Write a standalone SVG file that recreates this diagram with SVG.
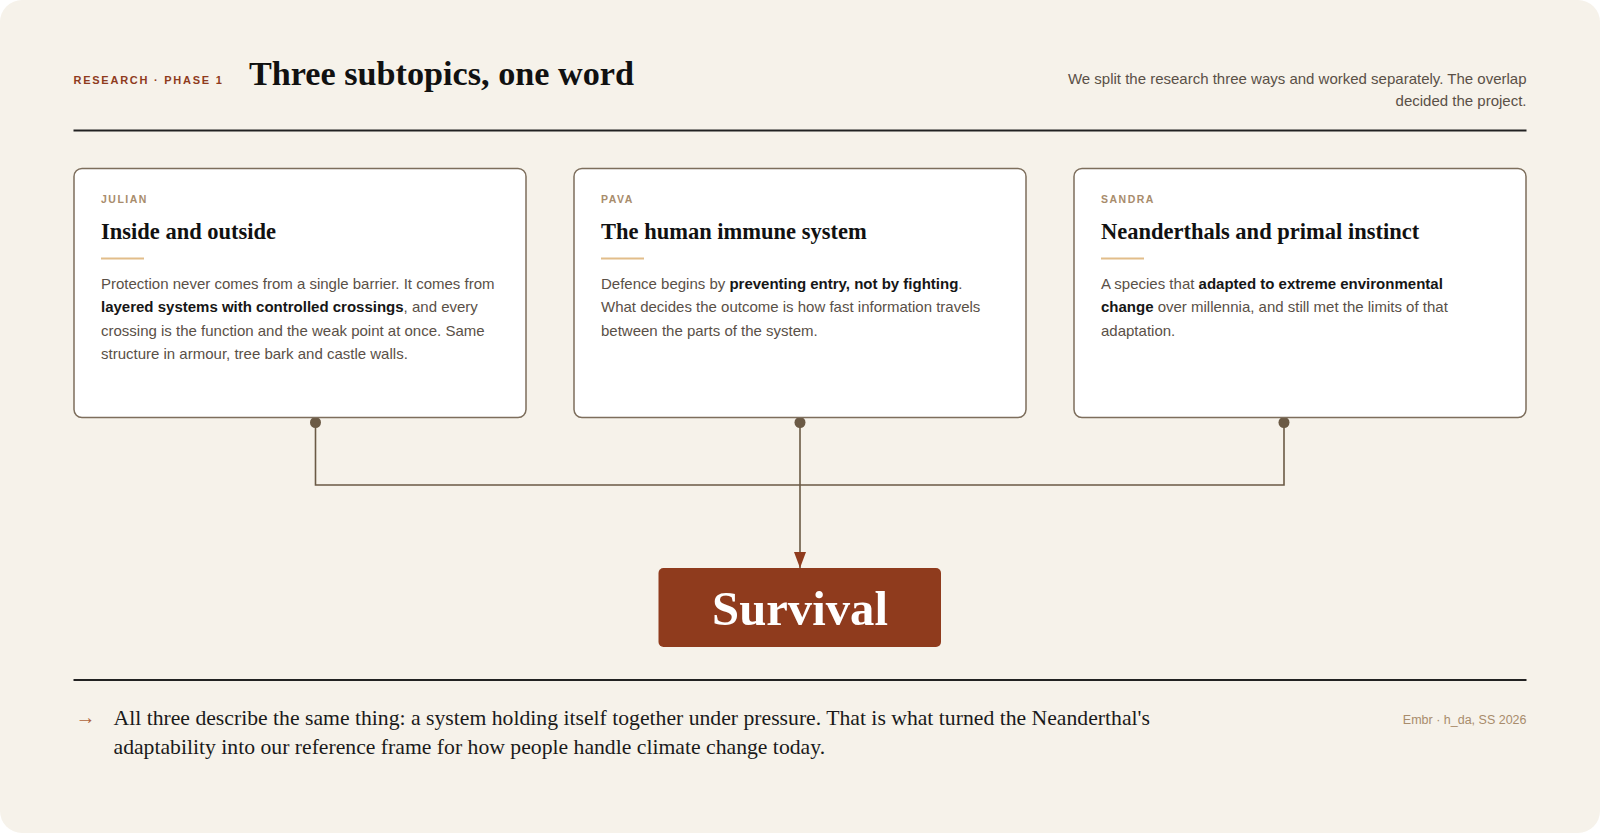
<svg xmlns="http://www.w3.org/2000/svg" width="1600" height="833" viewBox="0 0 1600 833">
<defs>
<style>
.eyebrow{font-family:"Liberation Sans",Arial,sans-serif;font-weight:700;font-size:11px;letter-spacing:1.75px;fill:#8f3b1d}
.title{font-family:"Liberation Serif","Times New Roman",serif;font-weight:700;font-size:34.2px;fill:#111}
.lede{font-family:"Liberation Sans",Arial,sans-serif;font-size:15px;fill:#5a5047}
.card{fill:#fff;stroke:#7d6e5c;stroke-width:1.5}
.who{font-family:"Liberation Sans",Arial,sans-serif;font-weight:700;font-size:10.5px;letter-spacing:1.5px;fill:#a88c6c}
.ctitle{font-family:"Liberation Serif","Times New Roman",serif;font-weight:700;font-size:22.5px;fill:#111}
.accent{stroke:#e2bd8a;stroke-width:2}
.body{font-family:"Liberation Sans",Arial,sans-serif;font-size:15px;fill:#5a5047}
.b{font-weight:700;fill:#161616}
.rule{stroke:#222;stroke-width:2}
.conn{fill:none;stroke:#6b5a45;stroke-width:1.6}
.dot{fill:#6b5a45}
.foot{font-family:"Liberation Serif","Times New Roman",serif;font-size:21.7px;fill:#1a1a1a}
.credit{font-family:"Liberation Sans",Arial,sans-serif;font-size:12.5px;fill:#a88c6c}
</style>
<marker id="arr" viewBox="0 0 16 12" refX="16" refY="6" markerWidth="16" markerHeight="12" markerUnits="userSpaceOnUse" orient="auto">
<path d="M0,0 L16,6 L0,12 Z" fill="#8f3b1d"/>
</marker>
</defs>
<rect x="0" y="0" width="1600" height="833" fill="#ffffff"/>
<rect x="0" y="0" width="1600" height="833" rx="22" fill="#f6f2ea"/>

<g id="header">
<text class="eyebrow" x="73.5" y="84">RESEARCH · PHASE 1</text>
<text class="title" x="249" y="85">Three subtopics, one word</text>
<text class="lede" x="1526.5" y="84" text-anchor="end">We split the research three ways and worked separately. The overlap</text>
<text class="lede" x="1526.5" y="105.5" text-anchor="end">decided the project.</text>
<line class="rule" x1="73.5" y1="130.5" x2="1526.5" y2="130.5"/>
</g>

<g id="connectors">
<path class="conn" d="M315.5,422.5 V485 H1284 V422.5"/>
<path class="conn" d="M800,422.5 V568" marker-end="url(#arr)"/>
<circle class="dot" cx="315.5" cy="422.5" r="5.5"/>
<circle class="dot" cx="800" cy="422.5" r="5.5"/>
<circle class="dot" cx="1284" cy="422.5" r="5.5"/>
</g>

<g id="card-julian">
<rect class="card" x="74" y="168.5" width="452" height="249" rx="8"/>
<text class="who" x="101" y="203">JULIAN</text>
<text class="ctitle" x="101" y="239">Inside and outside</text>
<line class="accent" x1="101" y1="258.5" x2="144" y2="258.5"/>
<text class="body" x="101" y="289">Protection never comes from a single barrier. It comes from</text>
<text class="body" x="101" y="312.3"><tspan class="b">layered systems with controlled crossings</tspan>, and every</text>
<text class="body" x="101" y="335.6">crossing is the function and the weak point at once. Same</text>
<text class="body" x="101" y="358.9">structure in armour, tree bark and castle walls.</text>
</g>

<g id="card-pava">
<rect class="card" x="574" y="168.5" width="452" height="249" rx="8"/>
<text class="who" x="601" y="203">PAVA</text>
<text class="ctitle" x="601" y="239">The human immune system</text>
<line class="accent" x1="601" y1="258.5" x2="644" y2="258.5"/>
<text class="body" x="601" y="289">Defence begins by <tspan class="b">preventing entry, not by fighting</tspan>.</text>
<text class="body" x="601" y="312.3">What decides the outcome is how fast information travels</text>
<text class="body" x="601" y="335.6">between the parts of the system.</text>
</g>

<g id="card-sandra">
<rect class="card" x="1074" y="168.5" width="452" height="249" rx="8"/>
<text class="who" x="1101" y="203">SANDRA</text>
<text class="ctitle" x="1101" y="239">Neanderthals and primal instinct</text>
<line class="accent" x1="1101" y1="258.5" x2="1144" y2="258.5"/>
<text class="body" x="1101" y="289">A species that <tspan class="b">adapted to extreme environmental</tspan></text>
<text class="body" x="1101" y="312.3"><tspan class="b">change</tspan> over millennia, and still met the limits of that</text>
<text class="body" x="1101" y="335.6">adaptation.</text>
</g>

<g id="survival">
<rect x="658.5" y="568" width="282.5" height="79" rx="5" fill="#8f3b1d"/>
<text x="800" y="624.5" text-anchor="middle" font-family="'Liberation Serif','Times New Roman',serif" font-weight="700" font-size="48.7" fill="#ffffff">Survival</text>
</g>

<g id="footer">
<line class="rule" x1="73.5" y1="680" x2="1526.5" y2="680"/>
<text x="75.5" y="724" font-family="'Liberation Sans',Arial,sans-serif" font-size="20" fill="#b0643c">→</text>
<text class="foot" x="113.5" y="724.5">All three describe the same thing: a system holding itself together under pressure. That is what turned the Neanderthal's</text>
<text class="foot" x="113.5" y="754">adaptability into our reference frame for how people handle climate change today.</text>
<text class="credit" x="1526.5" y="724" text-anchor="end">Embr · h_da, SS 2026</text>
</g>
</svg>
